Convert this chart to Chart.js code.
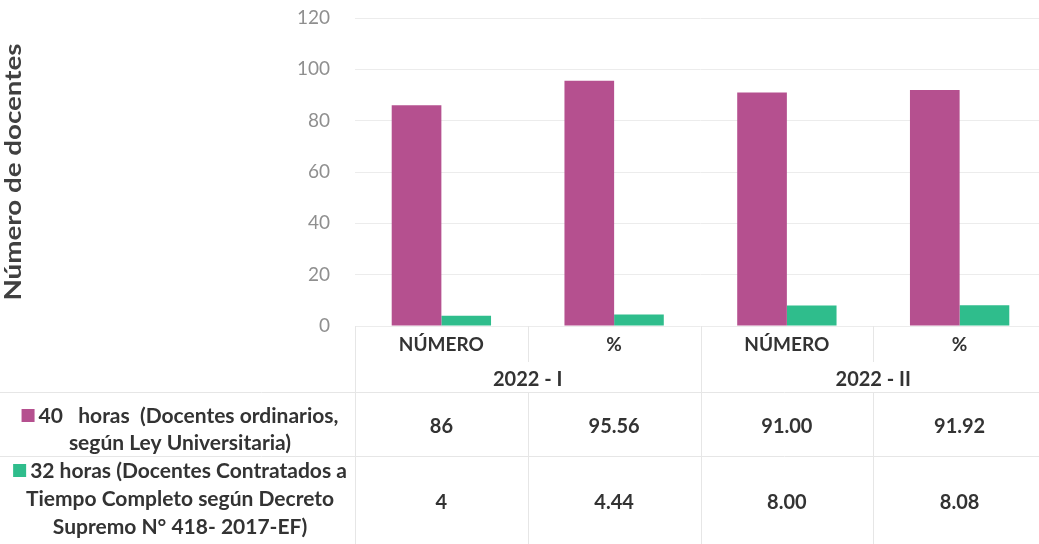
<!DOCTYPE html>
<html>
<head>
<meta charset="utf-8">
<script src="https://cdn.jsdelivr.net/npm/chart.js@4.4.1/dist/chart.umd.min.js"></script>
<style>
  html, body { margin: 0; padding: 0; background: #fff; overflow: hidden; }
  #wrap { width: 1046px; height: 544px; }
</style>
</head>
<body>
<div id="wrap"><canvas id="chart" width="1046" height="544"></canvas></div>
<script>
// datos del grafico
const categories = ['NÚMERO', '%', 'NÚMERO', '%'];
const groups = ['2022 - I', '2022 - II'];
const horas40 = [86, 95.56, 91.00, 91.92];
const horas32 = [4, 4.44, 8.00, 8.08];
const horas40Text = ['86', '95.56', '91.00', '91.92'];
const horas32Text = ['4', '4.44', '8.00', '8.08'];
const yTicks = [0, 20, 40, 60, 80, 100, 120];
const seriesNames = [
  ['40   horas  (Docentes ordinarios,', 'según Ley Universitaria)'],
  ['32 horas (Docentes Contratados a', 'Tiempo Completo según Decreto', 'Supremo N° 418- 2017-EF)']
];
const yTitle = 'Número de docentes';

const PINK = '#b5508f';
const GREEN = '#2fbd8c';
const TEXT = '#333333';
const LINE = '#e6e6e6';
const FONT = 'Lato, "Open Sans", sans-serif';

// tabla de datos debajo del eje (estilo Excel)
const tablePlugin = {
  id: 'dataTable',
  afterDraw(chart) {
    const { ctx, chartArea } = chart;
    const x = chart.scales.x;
    const top = chartArea.bottom;
    const left = chartArea.left, right = chartArea.right;
    const colW = (right - left) / categories.length;
    const rowH1 = top + 36, rowH2 = top + 66, row1 = top + 130, bottom = chart.height;

    ctx.save();
    ctx.strokeStyle = LINE;
    ctx.lineWidth = 1;
    // lineas verticales
    for (let i = 0; i <= categories.length; i++) {
      const lx = Math.round(left + i * colW) + 0.5;
      ctx.beginPath();
      if (i % 2 === 1) {
        ctx.moveTo(lx, top); ctx.lineTo(lx, rowH1);
        ctx.moveTo(lx, rowH2); ctx.lineTo(lx, bottom);
      } else {
        ctx.moveTo(lx, top); ctx.lineTo(lx, bottom);
      }
      ctx.stroke();
    }
    // lineas horizontales
    [rowH2, row1].forEach(ly => {
      ctx.beginPath();
      ctx.moveTo(0, Math.round(ly) + 0.5);
      ctx.lineTo(right, Math.round(ly) + 0.5);
      ctx.stroke();
    });

    ctx.fillStyle = TEXT;
    ctx.textAlign = 'center';
    ctx.textBaseline = 'middle';
    ctx.font = 'bold 19px ' + FONT;
    categories.forEach((c, i) => ctx.fillText(c, x.getPixelForValue(i), top + 19));
    ctx.font = 'bold 20px ' + FONT;
    groups.forEach((g, i) => {
      const cx = (x.getPixelForValue(i * 2) + x.getPixelForValue(i * 2 + 1)) / 2;
      ctx.fillText(g, cx, top + 54);
    });

    // valores
    horas40Text.forEach((t, i) => ctx.fillText(t, x.getPixelForValue(i), top + 101));
    horas32Text.forEach((t, i) => ctx.fillText(t, x.getPixelForValue(i), top + 177));

    // leyenda en la tabla
    ctx.font = 'bold 21px ' + FONT;
    const legendX = 180;
    const drawLegend = (lines, color, y0, step) => {
      lines.forEach((ln, j) => {
        const y = y0 + j * step;
        if (j === 0) {
          const w = ctx.measureText(ln).width;
          const sq = 13, gap = 4;
          const start = legendX - (w + sq + gap) / 2;
          ctx.fillStyle = color;
          ctx.fillRect(start, y - 7, sq, sq);
          ctx.fillStyle = TEXT;
          ctx.textAlign = 'left';
          ctx.fillText(ln, start + sq + gap, y);
          ctx.textAlign = 'center';
        } else {
          ctx.fillText(ln, legendX, y);
        }
      });
    };
    drawLegend(seriesNames[0], PINK, top + 90, 27);
    drawLegend(seriesNames[1], GREEN, top + 145, 28);

    // titulo del eje Y
    ctx.font = 'bold 23px ' + FONT;
    ctx.fillStyle = '#404040';
    const tw = ctx.measureText(yTitle).width;
    ctx.translate(21, (chartArea.top + chartArea.bottom) / 2);
    ctx.rotate(-Math.PI / 2);
    ctx.scale(257 / tw, 1);
    ctx.textBaseline = 'alphabetic';
    ctx.fillText(yTitle, 0, 0);
    ctx.restore();
  }
};

new Chart(document.getElementById('chart'), {
  type: 'bar',
  data: {
    labels: categories,
    datasets: [
      { label: seriesNames[0].join(' '), data: horas40, backgroundColor: PINK },
      { label: seriesNames[1].join(' '), data: horas32, backgroundColor: GREEN }
    ]
  },
  options: {
    responsive: false,
    animation: false,
    events: [],
    layout: { padding: { top: 18, bottom: 218, left: 0, right: 0 } },
    datasets: { bar: { categoryPercentage: 0.575, barPercentage: 1 } },
    plugins: { legend: { display: false }, tooltip: { enabled: false } },
    scales: {
      x: { display: false },
      y: {
        min: 0, max: 120,
        afterFit: s => { s.width = 355; s.paddingTop = 0; s.paddingBottom = 0; },
        afterBuildTicks: s => { s.ticks = yTicks.map(v => ({ value: v })); },
        border: { display: false },
        grid: { color: '#ececec', drawTicks: false },
        ticks: { padding: 25, color: '#8f8f8f', font: { family: FONT, size: 19 } }
      }
    }
  },
  plugins: [tablePlugin]
});
</script>
</body>
</html>
